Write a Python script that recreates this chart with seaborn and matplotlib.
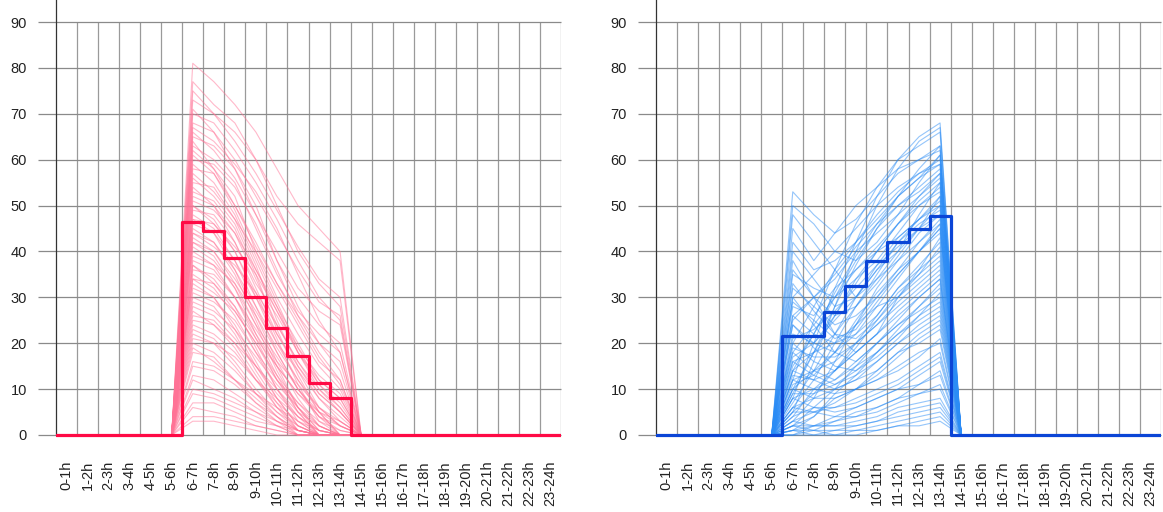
import numpy as np
import pandas as pd
import matplotlib
matplotlib.use('Agg')
import matplotlib.pyplot as plt
import seaborn as sns

sns.set_style('white')
plt.rcParams['font.family'] = ['Liberation Sans', 'DejaVu Sans']

# categorias horarias
horas = ['0-1h', '1-2h', '2-3h', '3-4h', '4-5h', '5-6h', '6-7h', '7-8h', '8-9h',
         '9-10h', '10-11h', '11-12h', '12-13h', '13-14h', '14-15h', '15-16h',
         '16-17h', '17-18h', '18-19h', '19-20h', '20-21h', '21-22h', '22-23h', '23-24h']
ticks_y = [0, 10, 20, 30, 40, 50, 60, 70, 80, 90]

# perfiles individuales (valores de 6-7h a 13-14h), panel izquierdo
perfiles_izq = [
    [81, 77, 72, 66, 58, 50, 45, 40],
    [77, 72, 68, 60, 52, 46, 42, 38],
    [75, 70, 64, 57, 49, 41, 34, 30],
    [73, 70, 66, 60, 50, 40, 33, 28],
    [71, 66, 58, 48, 38, 30, 24, 20],
    [70, 68, 62, 55, 47, 38, 30, 25],
    [68, 66, 60, 52, 44, 36, 29, 26],
    [67, 64, 59, 53, 45, 35, 25, 18],
    [66, 62, 56, 48, 40, 32, 27, 24],
    [65, 63, 58, 50, 38, 28, 20, 14],
    [64, 58, 50, 41, 33, 26, 20, 16],
    [63, 60, 55, 45, 35, 27, 22, 18],
    [62, 58, 52, 40, 30, 22, 15, 10],
    [61, 57, 49, 39, 29, 19, 11, 6],
    [60, 59, 54, 46, 36, 26, 18, 12],
    [59, 55, 48, 38, 28, 18, 10, 5],
    [58, 57, 50, 42, 33, 25, 17, 11],
    [57, 53, 47, 40, 32, 24, 16, 12],
    [56, 52, 46, 36, 27, 18, 12, 8],
    [55, 54, 47, 37, 25, 15, 8, 3],
    [54, 50, 44, 34, 24, 16, 10, 6],
    [53, 51, 45, 35, 23, 13, 5, 0],
    [52, 50, 42, 32, 22, 14, 6, 2],
    [51, 49, 44, 36, 28, 20, 12, 8],
    [50, 47, 40, 30, 20, 12, 5, 0],
    [50, 46, 41, 35, 27, 19, 13, 9],
    [49, 48, 42, 33, 26, 18, 11, 7],
    [48, 45, 38, 28, 18, 10, 4, 0],
    [47, 44, 38, 30, 22, 15, 9, 5],
    [47, 46, 40, 31, 21, 11, 3, 0],
    [46, 44, 36, 26, 16, 8, 2, 0],
    [45, 42, 36, 28, 20, 14, 8, 4],
    [44, 42, 35, 25, 15, 6, 0, 0],
    [44, 41, 37, 31, 24, 16, 9, 5],
    [43, 40, 34, 27, 19, 12, 6, 2],
    [42, 40, 33, 24, 14, 6, 1, 0],
    [42, 39, 32, 22, 13, 5, 0, 0],
    [41, 38, 32, 24, 17, 10, 5, 2],
    [40, 37, 30, 21, 12, 5, 0, 0],
    [39, 37, 33, 26, 18, 10, 4, 2],
    [38, 36, 30, 22, 15, 9, 4, 1],
    [37, 34, 28, 19, 10, 3, 0, 0],
    [37, 33, 27, 20, 12, 6, 1, 0],
    [36, 35, 30, 23, 16, 11, 6, 3],
    [35, 32, 26, 18, 10, 4, 0, 0],
    [34, 31, 27, 20, 13, 7, 2, 0],
    [34, 33, 28, 21, 15, 9, 5, 3],
    [33, 30, 23, 15, 8, 2, 0, 0],
    [32, 30, 24, 16, 8, 2, 0, 0],
    [31, 29, 25, 18, 12, 7, 3, 1],
    [30, 28, 22, 14, 7, 1, 0, 0],
    [29, 27, 23, 17, 11, 6, 2, 0],
    [28, 26, 21, 15, 9, 4, 1, 0],
    [27, 24, 19, 12, 6, 2, 0, 0],
    [26, 25, 20, 13, 6, 1, 0, 0],
    [25, 24, 20, 15, 10, 5, 2, 0],
    [24, 22, 18, 12, 7, 3, 0, 0],
    [23, 21, 16, 10, 5, 1, 0, 0],
    [22, 20, 15, 9, 4, 0, 0, 0],
    [21, 20, 17, 12, 8, 4, 1, 0],
    [20, 18, 14, 9, 5, 2, 0, 0],
    [19, 16, 12, 8, 4, 1, 0, 0],
    [18, 17, 12, 7, 3, 0, 0, 0],
    [16, 15, 12, 9, 6, 3, 1, 0],
    [15, 14, 11, 7, 4, 1, 0, 0],
    [13, 12, 9, 6, 3, 1, 0, 0],
    [12, 10, 8, 5, 2, 0, 0, 0],
    [10, 9, 7, 5, 3, 1, 0, 0],
    [9, 8, 6, 4, 2, 0, 0, 0],
    [7, 7, 5, 3, 2, 1, 0, 0],
    [6, 5, 4, 2, 1, 0, 0, 0],
    [4, 4, 3, 2, 1, 0, 0, 0],
    [3, 3, 2, 1, 0, 0, 0, 0],
]

# perfiles individuales (valores de 6-7h a 13-14h), panel derecho
perfiles_der = [
    [8, 20, 32, 42, 52, 60, 65, 68],
    [5, 16, 28, 40, 50, 58, 64, 67],
    [12, 25, 36, 46, 54, 60, 63, 66],
    [9, 18, 28, 37, 45, 52, 58, 63],
    [53, 48, 44, 47, 52, 57, 60, 63],
    [45, 38, 44, 50, 54, 58, 60, 62],
    [14, 22, 31, 39, 46, 52, 56, 61],
    [50, 46, 40, 38, 42, 48, 55, 61],
    [30, 35, 40, 45, 50, 54, 57, 60],
    [42, 36, 38, 42, 47, 52, 56, 59],
    [20, 28, 36, 42, 48, 53, 57, 59],
    [15, 22, 30, 38, 45, 50, 54, 58],
    [26, 30, 35, 41, 46, 50, 53, 57],
    [10, 18, 26, 34, 40, 46, 52, 57],
    [25, 30, 34, 40, 44, 48, 52, 56],
    [48, 42, 36, 30, 34, 40, 48, 55],
    [17, 20, 26, 33, 40, 46, 51, 55],
    [35, 32, 30, 34, 38, 44, 50, 54],
    [18, 24, 30, 36, 41, 46, 50, 53],
    [28, 26, 32, 36, 40, 43, 47, 52],
    [36, 30, 26, 28, 33, 39, 45, 52],
    [6, 12, 20, 28, 35, 42, 47, 51],
    [7, 14, 22, 30, 37, 43, 47, 50],
    [22, 20, 25, 30, 36, 40, 45, 50],
    [40, 34, 28, 30, 36, 42, 46, 49],
    [14, 18, 22, 28, 34, 38, 44, 48],
    [21, 23, 27, 32, 37, 41, 45, 48],
    [32, 28, 24, 26, 30, 36, 42, 47],
    [3, 8, 16, 24, 32, 38, 42, 46],
    [29, 25, 21, 23, 29, 35, 40, 46],
    [24, 20, 18, 22, 28, 34, 40, 45],
    [11, 13, 18, 25, 31, 36, 40, 45],
    [10, 14, 18, 24, 30, 35, 40, 44],
    [38, 30, 22, 18, 22, 30, 36, 43],
    [16, 18, 20, 22, 26, 32, 37, 42],
    [33, 27, 22, 21, 25, 30, 35, 41],
    [4, 10, 14, 20, 26, 32, 36, 40],
    [5, 9, 14, 19, 25, 31, 35, 39],
    [26, 22, 20, 24, 28, 30, 34, 38],
    [19, 17, 17, 20, 24, 29, 33, 37],
    [12, 14, 16, 20, 24, 28, 32, 36],
    [13, 12, 14, 18, 22, 27, 31, 35],
    [20, 16, 14, 18, 22, 26, 30, 34],
    [2, 6, 10, 15, 20, 25, 30, 34],
    [1, 4, 9, 13, 18, 23, 28, 33],
    [30, 24, 18, 16, 20, 24, 28, 32],
    [24, 19, 15, 14, 17, 21, 26, 31],
    [8, 10, 12, 16, 20, 24, 27, 30],
    [9, 9, 11, 14, 18, 22, 26, 29],
    [18, 14, 12, 15, 18, 22, 25, 28],
    [6, 8, 10, 12, 16, 20, 24, 27],
    [16, 13, 11, 13, 16, 20, 23, 26],
    [14, 12, 10, 12, 14, 18, 22, 25],
    [3, 5, 7, 10, 13, 17, 21, 24],
    [2, 4, 8, 10, 14, 18, 20, 23],
    [12, 10, 9, 10, 12, 14, 17, 21],
    [10, 8, 8, 10, 12, 15, 18, 20],
    [4, 6, 6, 8, 10, 12, 15, 18],
    [5, 5, 6, 7, 9, 11, 14, 17],
    [0, 2, 4, 6, 8, 10, 13, 16],
    [1, 1, 3, 5, 6, 8, 11, 14],
    [8, 6, 5, 6, 8, 10, 11, 13],
    [1, 2, 3, 4, 6, 8, 9, 11],
    [6, 5, 4, 4, 5, 7, 9, 10],
    [3, 2, 2, 3, 4, 6, 7, 8],
    [2, 2, 2, 2, 3, 5, 6, 7],
    [0, 1, 1, 2, 3, 4, 5, 6],
    [1, 0, 1, 1, 2, 3, 4, 5],
    [2, 1, 0, 0, 1, 2, 3, 4],
    [0, 0, 0, 1, 1, 2, 2, 3],
]

# medias por hora (linea escalonada gruesa)
media_izq = [0, 0, 0, 0, 0, 0, 46.5, 44.5, 38.5, 30.0, 23.3, 17.2, 11.3, 8.0,
             0, 0, 0, 0, 0, 0, 0, 0, 0, 0]
media_der = [0, 0, 0, 0, 0, 0, 21.5, 21.5, 26.8, 32.5, 38.0, 42.0, 45.0, 47.8,
             0, 0, 0, 0, 0, 0, 0, 0, 0, 0]

# horas antes y despues del tramo con valores (todo ceros)
ceros_antes = [0, 0, 0, 0, 0, 0]
ceros_despues = [0, 0, 0, 0, 0, 0, 0, 0, 0, 0]


def a_largo(perfiles):
    filas = []
    for i, p in enumerate(perfiles):
        serie = ceros_antes + p + ceros_despues
        for j, v in enumerate(serie):
            filas.append({'id': i, 'pos': j + 0.5, 'valor': v})
    return pd.DataFrame(filas)


df_izq = a_largo(perfiles_izq)
df_der = a_largo(perfiles_der)

fig = plt.figure(figsize=(11.63, 5.12), dpi=100)
ax_izq = fig.add_axes([56 / 1163, 72 / 512, 505 / 1163, 440 / 512])
ax_der = fig.add_axes([656 / 1163, 72 / 512, 505 / 1163, 440 / 512])

px_unidad = (435 - 22) / 90
y_top = 90 + 22 / px_unidad
y_bot = -5 / px_unidad
x_ext = -18 / 505 * 24   # la rejilla horizontal sobresale 18 px a la izquierda

paneles = [
    (ax_izq, df_izq, media_izq, '#ff7396', '#ff0a45'),
    (ax_der, df_der, media_der, '#2b8cf5', '#0b45d6'),
]

for ax, df, media, c_fino, c_grueso in paneles:
    # rejilla
    ax.vlines(range(1, 25), 0, 90, color='#9a9a9a', lw=0.9, zorder=0.5)
    ax.hlines(ticks_y, x_ext, 24, color='#8a8a8a', lw=0.9, zorder=0.6, clip_on=False)

    sns.lineplot(data=df, x='pos', y='valor', units='id', estimator=None,
                 color=c_fino, alpha=0.5, lw=0.8, ax=ax, zorder=2)
    sns.lineplot(x=list(range(25)), y=media + [media[-1]], drawstyle='steps-post',
                 color=c_grueso, lw=2.3, ax=ax, zorder=3)

    ax.set_xlim(0, 24)
    ax.set_ylim(y_bot, y_top)
    ax.set_yticks(ticks_y)
    ax.set_yticklabels([str(t) for t in ticks_y])
    ax.set_xticks([i + 0.5 for i in range(24)])
    ax.set_xticklabels(horas, rotation=90, fontsize=10.5, color='#222222')
    ax.tick_params(axis='x', length=0, pad=15)
    ax.tick_params(axis='y', length=0, pad=21, labelsize=10.5, labelcolor='#222222')
    ax.grid(False)
    ax.set_xlabel('')
    ax.set_ylabel('')
    for s in ['top', 'right', 'bottom']:
        ax.spines[s].set_visible(False)
    ax.spines['left'].set_color('#333333')
    ax.spines['left'].set_linewidth(0.9)
    ax.spines['left'].set_bounds(0, y_top)

plt.savefig('out.png', dpi=100)
